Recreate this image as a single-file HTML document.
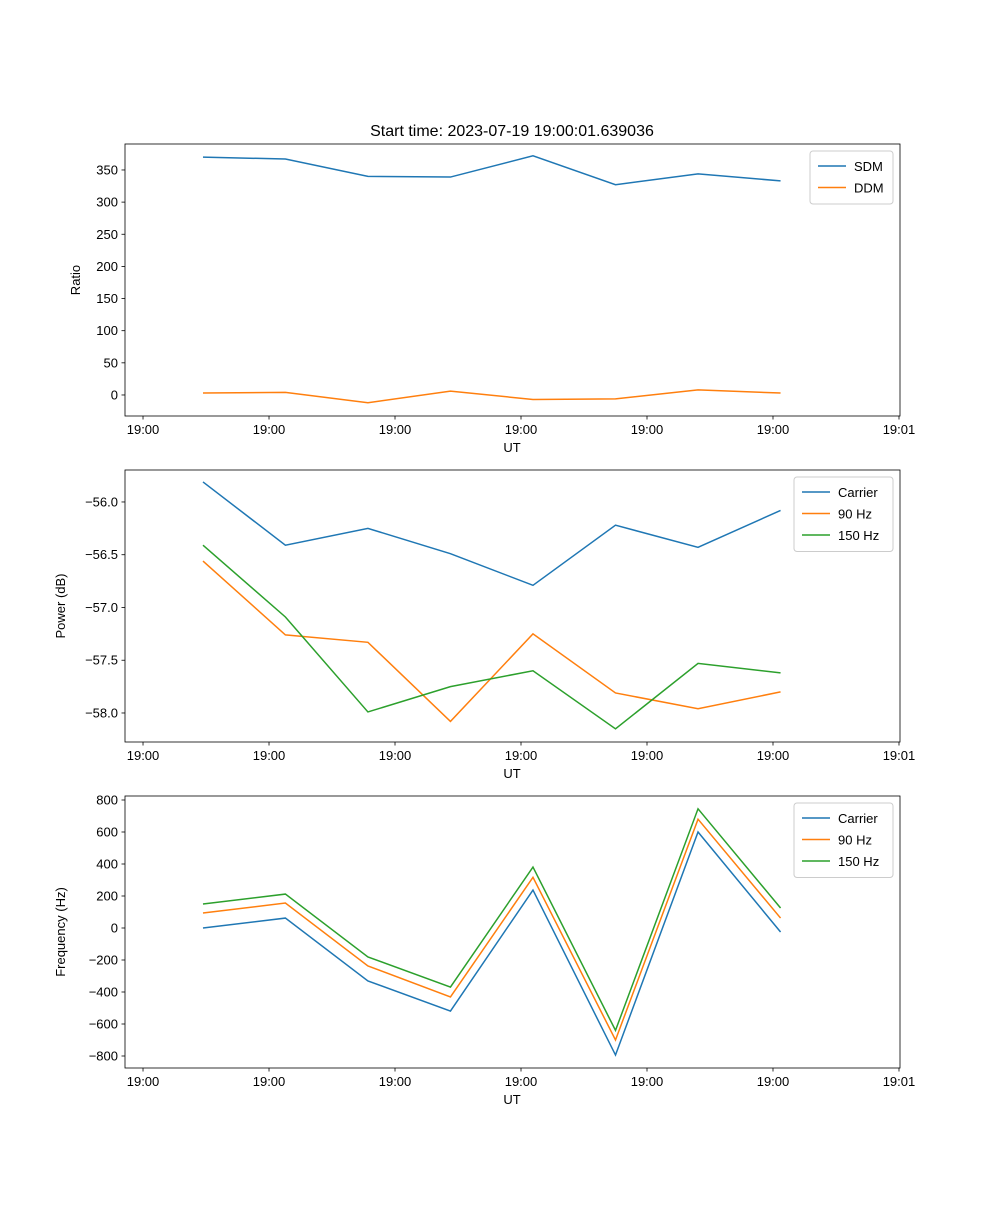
<!DOCTYPE html>
<html><head><meta charset="utf-8"><style>
body{margin:0;background:#fff}
svg text{font-family:"Liberation Sans","DejaVu Sans",sans-serif;fill:#000}
</style></head><body>
<svg id="fig" width="1000" height="1200" xmlns="http://www.w3.org/2000/svg">
<rect width="1000" height="1200" fill="#fff"/>
<text x="512" y="136" font-size="16" text-anchor="middle">Start time: 2023-07-19 19:00:01.639036</text>
</svg>
<script>
const times=[4.76,11.3,17.85,24.4,30.95,37.5,44.05,50.6];
const xTicks=[0,10,20,30,40,50,60];
const xTickLabels=["19:00","19:00","19:00","19:00","19:00","19:00","19:01"];
const sdm=[370,367,340,339,372,327,344,333];
const ddm=[3,4,-12,6,-7,-6,8,3];
const powCarrier=[-55.81,-56.41,-56.25,-56.49,-56.79,-56.22,-56.43,-56.08];
const pow90=[-56.56,-57.26,-57.33,-58.08,-57.25,-57.81,-57.96,-57.80];
const pow150=[-56.41,-57.09,-57.99,-57.75,-57.60,-58.15,-57.53,-57.62];
const freqCarrier=[0,62,-331,-519,237,-794,600,-25];
const freq90=[94,156,-237,-431,317,-700,680,62];
const freq150=[150,212,-181,-369,381,-640,745,125];
const ratioTicks=[0,50,100,150,200,250,300,350];
const powTicks=[-58,-57.5,-57,-56.5,-56];
const powTickLabels=["\u221258.0","\u221257.5","\u221257.0","\u221256.5","\u221256.0"];
const freqTicks=[-800,-600,-400,-200,0,200,400,600,800];

const NS="http://www.w3.org/2000/svg";
const svg=document.getElementById('fig');
const C=['#1f77b4','#ff7f0e','#2ca02c'];
function mk(t,a,p){const e=document.createElementNS(NS,t);for(const k in a)e.setAttribute(k,a[k]);(p||svg).appendChild(e);return e;}
const L=125,R=900,xmin=-1.43,xmax=60.08;
const xs=v=>L+(v-xmin)/(xmax-xmin)*(R-L);
function panel(name,top,bot,ymin,ymax,ticks,tlabels,ylabel,series,names,legW){
  const g=mk('g',{});
  
  
  const ys=v=>bot-(v-ymin)/(ymax-ymin)*(bot-top);
  series.forEach((s,i)=>{
    const p=mk('polyline',{points:s.map((v,j)=>xs(times[j])+','+ys(v)).join(' '),fill:'none',stroke:C[i],'stroke-width':1.5},g);
    
    
  });
  mk('rect',{x:L,y:top,width:R-L,height:bot-top,fill:'none',stroke:'#000','stroke-width':0.8},g);
  xTicks.forEach((t,i)=>{const x=xs(t);mk('line',{x1:x,x2:x,y1:bot,y2:bot+3.5,stroke:'#000','stroke-width':0.8},g);
    const tx=mk('text',{x:x,y:bot+18,'font-size':13,'text-anchor':'middle'},g);tx.textContent=xTickLabels[i];
    });
  ticks.forEach((t,i)=>{const y=ys(t);mk('line',{x1:L,x2:L-3.5,y1:y,y2:y,stroke:'#000','stroke-width':0.8},g);
    const tx=mk('text',{x:L-7,y:y+4.5,'font-size':13,'text-anchor':'end'},g);tx.textContent=tlabels?tlabels[i]:String(t).replace('-','\u2212');
    });
  const xl=mk('text',{x:512,y:bot+36,'font-size':13,'text-anchor':'middle'},g);xl.textContent='UT';
  
  const ylx=name==='ratio'?80:65;
  const yl=mk('text',{x:ylx,y:(top+bot)/2,'font-size':13,'text-anchor':'middle',transform:`rotate(-90 ${ylx} ${(top+bot)/2})`},g);yl.textContent=ylabel;
  
  const lg=mk('g',{},g);
  const lx=R-7-legW,ly=top+7;
  mk('rect',{x:lx,y:ly,width:legW,height:10+names.length*21.5,fill:'#fff',stroke:'#ccc',rx:3},lg);
  names.forEach((n,i)=>{const yy=ly+15+i*21.5;
    mk('line',{x1:lx+8,x2:lx+36,y1:yy,y2:yy,stroke:C[i],'stroke-width':1.5},lg);
    const tx=mk('text',{x:lx+44,y:yy+5,'font-size':13},lg);tx.textContent=n;
    });
}
panel('ratio',144,416,-32.7,390.4,ratioTicks,null,'Ratio',[sdm,ddm],['SDM','DDM'],83);
panel('power',470,742,-58.275,-55.697,powTicks,powTickLabels,'Power (dB)',[powCarrier,pow90,pow150],['Carrier','90 Hz','150 Hz'],99);
panel('frequency',796,1068,-875,825,freqTicks,null,'Frequency (Hz)',[freqCarrier,freq90,freq150],['Carrier','90 Hz','150 Hz'],99);
</script>
</body></html>
